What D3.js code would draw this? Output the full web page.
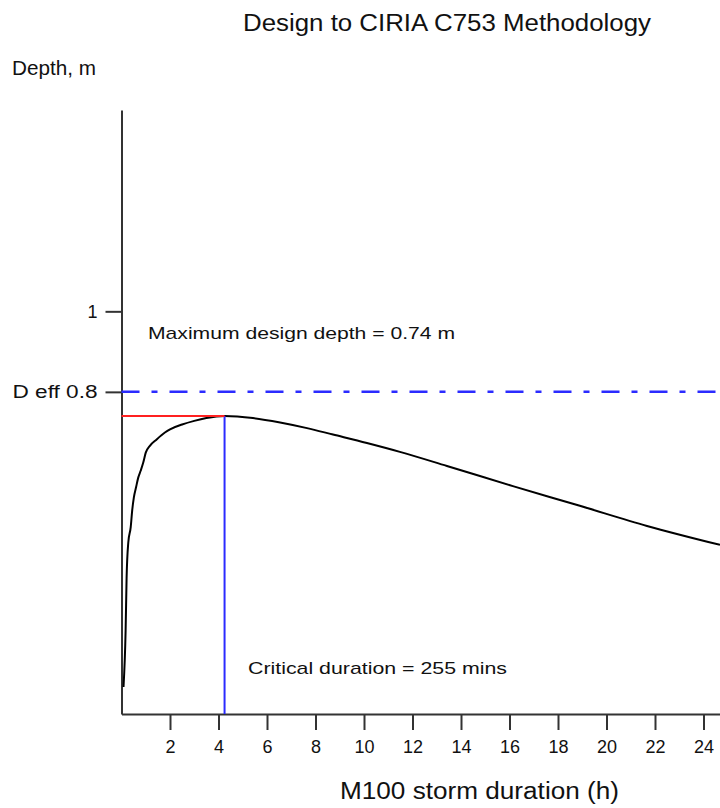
<!DOCTYPE html>
<html>
<head>
<meta charset="utf-8">
<script src="https://cdn.jsdelivr.net/npm/d3@7/dist/d3.min.js"></script>
<style>
  html, body { margin: 0; padding: 0; background: #fff; }
  svg { display: block; font-family: "Liberation Sans", Arial, sans-serif; }
</style>
</head>
<body>
<svg id="chart" width="720" height="808"></svg>
<script>
// Storm duration (hours) and resulting storage depth (m) for the M100 event
const durationH = [0.083, 0.17, 0.21, 0.28, 0.38, 0.44, 0.51, 0.6, 0.69, 0.79, 0.9, 1.0, 1.17, 1.45, 1.79, 2.0, 2.5, 3.0, 3.5, 4.25, 5.42, 6.54, 7.65, 8.72, 10.12, 11.48, 13.42, 16.14, 18.9, 21.67, 24.68];
const depthM    = [0.067, 0.208, 0.337, 0.426, 0.464, 0.505, 0.538, 0.563, 0.587, 0.604, 0.625, 0.649, 0.666, 0.682, 0.699, 0.707, 0.719, 0.728, 0.735, 0.74, 0.735, 0.724, 0.710, 0.694, 0.673, 0.651, 0.616, 0.566, 0.517, 0.467, 0.420];

const xTicks = [2, 4, 6, 8, 10, 12, 14, 16, 18, 20, 22, 24];
const yTicks = [0.8, 1];
const yTickLabels = ["D eff 0.8", "1"];

const maxDepth = 0.74;          // m
const criticalMins = 255;       // minutes
const effectiveDepth = 0.8;     // m

const svg = d3.select("#chart");

const x = d3.scaleLinear().domain([0, 25]).range([121.5, 727.75]);
const y = d3.scaleLinear().domain([0, 1.5]).range([714, 110]);

const axisColor = "#333";
const font = "'Liberation Sans', Arial, sans-serif";

// Title and axis names
svg.append("text").attr("x", 243).attr("y", 31)
  .attr("font-size", 23).attr("fill", "#111")
  .attr("textLength", 408).attr("lengthAdjust", "spacingAndGlyphs")
  .text("Design to CIRIA C753 Methodology");

svg.append("text").attr("x", 12).attr("y", 75)
  .attr("font-size", 20).attr("fill", "#111")
  .attr("textLength", 84).attr("lengthAdjust", "spacingAndGlyphs")
  .text("Depth, m");

svg.append("text").attr("x", 340).attr("y", 799)
  .attr("font-size", 23).attr("fill", "#111")
  .attr("textLength", 279).attr("lengthAdjust", "spacingAndGlyphs")
  .text("M100 storm duration (h)");

// X axis
const xAxis = d3.axisBottom(x).tickValues(xTicks).tickSize(16).tickPadding(10).tickSizeOuter(0);
const gx = svg.append("g").attr("transform", `translate(0,${y(0)})`).call(xAxis);
gx.select(".domain").attr("stroke", axisColor).attr("stroke-width", 2);
gx.selectAll(".tick line").attr("stroke", axisColor).attr("stroke-width", 2);
gx.selectAll(".tick text").attr("font-size", 18).attr("fill", "#111").attr("font-family", font);

// Y axis
const yAxis = d3.axisLeft(y).tickValues(yTicks)
  .tickFormat((d, i) => yTickLabels[i]).tickSize(16).tickPadding(8).tickSizeOuter(0);
const gy = svg.append("g").attr("transform", `translate(${x(0)},0)`).call(yAxis);
gy.select(".domain").attr("stroke", axisColor).attr("stroke-width", 2);
gy.selectAll(".tick line").attr("stroke", axisColor).attr("stroke-width", 2);
gy.selectAll(".tick text").attr("font-size", 18).attr("fill", "#111").attr("font-family", font)
  .each(function (d) {
    if (d === effectiveDepth) d3.select(this).attr("textLength", 85).attr("lengthAdjust", "spacingAndGlyphs");
  });

// Effective depth line
svg.append("line")
  .attr("x1", x(0)).attr("x2", 720)
  .attr("y1", y(effectiveDepth)).attr("y2", y(effectiveDepth))
  .attr("stroke", "#2b2bff").attr("stroke-width", 2.5)
  .attr("stroke-dasharray", "18,12,6,12");

// Depth-duration curve
const pts = durationH.map((d, i) => [d, depthM[i]]);
const line = d3.line().x(d => x(d[0])).y(d => y(d[1])).curve(d3.curveMonotoneX);
svg.append("path").datum(pts)
  .attr("d", line).attr("fill", "none")
  .attr("stroke", "#000").attr("stroke-width", 2);

// Critical duration marker
const critH = criticalMins / 60;
svg.append("line")
  .attr("x1", x(critH)).attr("x2", x(critH))
  .attr("y1", y(maxDepth)).attr("y2", y(0))
  .attr("stroke", "#2b2bff").attr("stroke-width", 2);

// Maximum depth marker
svg.append("line")
  .attr("x1", x(0)).attr("x2", x(critH))
  .attr("y1", y(maxDepth)).attr("y2", y(maxDepth))
  .attr("stroke", "#ff2020").attr("stroke-width", 2);

// Annotations
svg.append("text").attr("x", 148).attr("y", 339)
  .attr("font-size", 17).attr("fill", "#111")
  .attr("textLength", 307).attr("lengthAdjust", "spacingAndGlyphs")
  .text(`Maximum design depth = ${maxDepth} m`);

svg.append("text").attr("x", 248).attr("y", 674)
  .attr("font-size", 17).attr("fill", "#111")
  .attr("textLength", 259).attr("lengthAdjust", "spacingAndGlyphs")
  .text(`Critical duration = ${criticalMins} mins`);
</script>
</body>
</html>
